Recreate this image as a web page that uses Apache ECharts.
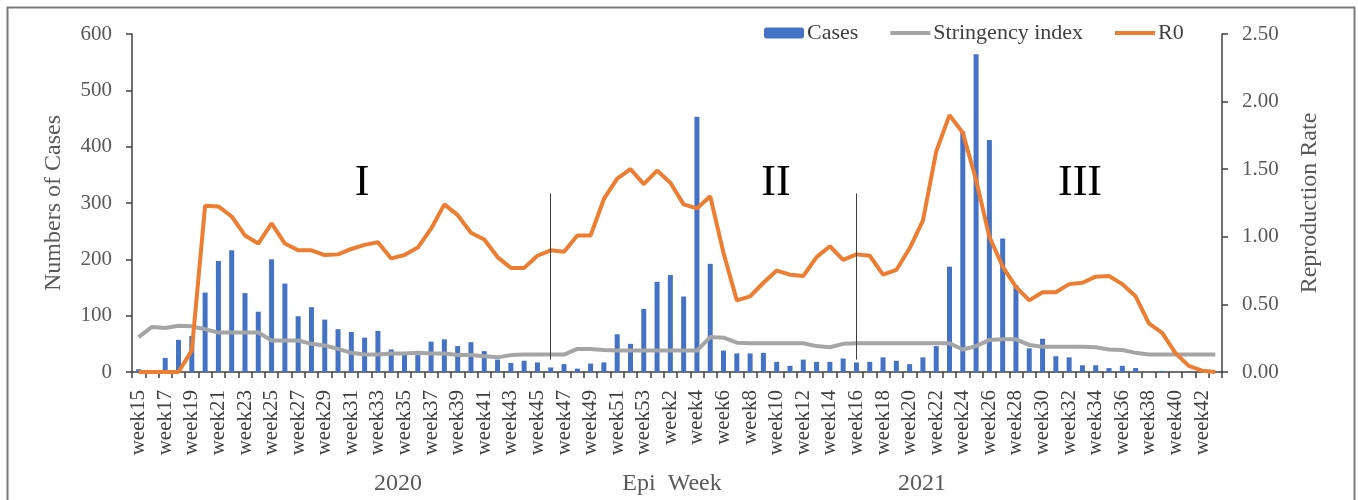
<!DOCTYPE html>
<html>
<head>
<meta charset="utf-8">
<script src="https://cdn.jsdelivr.net/npm/echarts@6/dist/echarts.min.js"></script>
<style>
  html, body { margin: 0; padding: 0; background: #fff; }
  #chart { width: 1358px; height: 500px; }
</style>
</head>
<body>
<div id="chart"></div>
<script>
// Epi weeks: 2020 week15..week53, then 2021 week1..week43
const weeks = [
  'week15','week16','week17','week18','week19','week20','week21','week22','week23','week24',
  'week25','week26','week27','week28','week29','week30','week31','week32','week33','week34',
  'week35','week36','week37','week38','week39','week40','week41','week42','week43','week44',
  'week45','week46','week47','week48','week49','week50','week51','week52','week53',
  'week1','week2','week3','week4','week5','week6','week7','week8','week9','week10',
  'week11','week12','week13','week14','week15','week16','week17','week18','week19','week20',
  'week21','week22','week23','week24','week25','week26','week27','week28','week29','week30',
  'week31','week32','week33','week34','week35','week36','week37','week38','week39','week40',
  'week41','week42','week43'
];

// Weekly case counts
const cases = [
  5, 0, 25, 57, 64, 141, 197, 216, 140, 107,
  200, 157, 99, 115, 93, 76, 71, 61, 73, 40,
  32, 30, 54, 58, 46, 53, 37, 22, 16, 20,
  17, 8, 14, 6, 15, 17, 67, 50, 112, 160,
  172, 134, 453, 192, 38, 33, 33, 34, 18, 11,
  22, 18, 18, 24, 17, 18, 26, 20, 14, 26,
  46, 187, 427, 564, 412, 237, 154, 42, 59, 28,
  26, 12, 12, 7, 11, 7, 0, 2, 0, 0,
  0, 0
];

// Government stringency index (plotted on the case axis)
const stringency = [
  62, 80, 78, 82, 81, 76, 70, 70, 70, 70,
  56, 56, 56, 50, 47, 41, 34, 31, 31, 33,
  33, 34, 33, 33, 30, 30, 28, 26, 30, 31,
  31, 31, 31, 41, 41, 39, 38, 38, 38, 38,
  38, 38, 38, 62, 61, 52, 51, 51, 51, 51,
  51, 46, 44, 50, 51, 51, 51, 51, 51, 51,
  51, 51, 40, 46, 57, 58, 58, 48, 45, 45,
  45, 45, 44, 40, 39, 34, 31, 31, 31, 31,
  31, 31
];

// Effective reproduction number
const r0 = [
  0, 0, 0, 0, 0.16, 1.23, 1.225, 1.15, 1.01, 0.95,
  1.10, 0.95, 0.90, 0.90, 0.865, 0.87, 0.91, 0.94, 0.96, 0.84,
  0.865, 0.92, 1.06, 1.24, 1.16, 1.03, 0.98, 0.85, 0.77, 0.77,
  0.86, 0.90, 0.89, 1.01, 1.01, 1.28, 1.43, 1.50, 1.39, 1.49,
  1.40, 1.24, 1.21, 1.30, 0.88, 0.53, 0.56, 0.66, 0.75, 0.72,
  0.71, 0.85, 0.93, 0.83, 0.87, 0.86, 0.72, 0.755, 0.915, 1.12,
  1.63, 1.90, 1.77, 1.42, 1.00, 0.78, 0.63, 0.53, 0.59, 0.59,
  0.65, 0.66, 0.705, 0.71, 0.65, 0.56, 0.36, 0.29, 0.14, 0.045,
  0.01, 0
];

// Wave boundaries (category index) and wave labels
const waveBreaks = [31, 54];
const waveLabels = ['I', 'II', 'III'];
const yearLabels = ['2020', 'Epi  Week', '2021'];

const FONT = '"Liberation Serif", "Times New Roman", serif';
const AXIS_DARK = '#404040';
const TEXT_GREY = '#595959';
const C_BAR = '#4472C4';
const C_GREY = '#A5A5A5';
const C_ORANGE = '#ED7D31';

const chart = echarts.init(document.getElementById('chart'), null, { renderer: 'canvas' });

// Line-series legend entries: plain thick stroke, no marker
const lineLegend = (name, color) => ({
  name,
  itemStyle: { opacity: 0 },
  lineStyle: { color, width: 4, opacity: 1 }
});

chart.setOption({
  animation: false,
  backgroundColor: '#fff',
  textStyle: { fontFamily: FONT },
  grid: { left: 132, right: 136, top: 34, bottom: 128, containLabel: false },
  legend: {
    data: [
      { name: 'Cases' },
      lineLegend('Stringency index', C_GREY),
      lineLegend('R0', C_ORANGE)
    ],
    left: 764,
    top: 22,
    padding: 0,
    itemWidth: 40,
    itemHeight: 11,
    itemGap: 30,
    textStyle: { fontFamily: FONT, fontSize: 22, color: AXIS_DARK, padding: [0, 0, 0, -2] }
  },
  xAxis: {
    type: 'category',
    data: weeks,
    boundaryGap: true,
    axisLine: { lineStyle: { color: AXIS_DARK, width: 1.5 } },
    axisTick: { show: true, interval: 0, length: 6, lineStyle: { color: AXIS_DARK, width: 1.5 } },
    axisLabel: {
      interval: 1,
      rotate: 90,
      margin: 18,
      fontFamily: FONT,
      fontSize: 21,
      color: AXIS_DARK
    },
    splitLine: { show: false }
  },
  yAxis: [
    {
      type: 'value',
      min: 0, max: 600, interval: 100,
      name: 'Numbers of Cases',
      nameLocation: 'middle',
      nameGap: 66,
      nameTextStyle: { fontFamily: FONT, fontSize: 24, color: TEXT_GREY },
      axisLine: { show: true, lineStyle: { color: AXIS_DARK, width: 1.5 } },
      axisTick: { show: true, length: 6, lineStyle: { color: AXIS_DARK, width: 1.5 } },
      axisLabel: { margin: 20, fontFamily: FONT, fontSize: 21, color: TEXT_GREY },
      splitLine: { show: false }
    },
    {
      type: 'value',
      min: 0, max: 2.5, interval: 0.5,
      position: 'right',
      name: 'Reproduction Rate',
      nameLocation: 'middle',
      nameGap: 76,
      nameRotate: 90,
      nameTextStyle: { fontFamily: FONT, fontSize: 24, color: TEXT_GREY },
      axisLine: { show: true, lineStyle: { color: AXIS_DARK, width: 1.5 } },
      axisTick: { show: true, length: 6, lineStyle: { color: AXIS_DARK, width: 1.5 } },
      axisLabel: {
        margin: 20, fontFamily: FONT, fontSize: 21, color: TEXT_GREY,
        formatter: v => v.toFixed(2)
      },
      splitLine: { show: false }
    }
  ],
  series: [
    {
      name: 'Cases',
      type: 'bar',
      data: cases,
      barWidth: 5,
      itemStyle: { color: C_BAR },
      markLine: {
        silent: true,
        symbol: 'none',
        label: { show: false },
        lineStyle: { color: AXIS_DARK, width: 1, type: 'solid' },
        data: waveBreaks.map(i => [{ coord: [i, 317] }, { coord: [i, 22] }])
      },
      z: 2
    },
    {
      name: 'Stringency index',
      type: 'line',
      data: stringency,
      yAxisIndex: 0,
      symbol: 'none',
      lineStyle: { color: C_GREY, width: 4 },
      itemStyle: { color: C_GREY },
      z: 3
    },
    {
      name: 'R0',
      type: 'line',
      data: r0,
      yAxisIndex: 1,
      symbol: 'none',
      lineStyle: { color: C_ORANGE, width: 4 },
      itemStyle: { color: C_ORANGE },
      z: 4
    }
  ],
  graphic: [
    {
      type: 'rect',
      shape: { x: 7.5, y: 7.5, width: 1347, height: 520 },
      style: { fill: 'none', stroke: '#7a7a7a', lineWidth: 2 },
      silent: true
    },
    ...waveLabels.map((t, k) => ({
      type: 'text',
      x: [362, 776, 1080][k],
      y: 183,
      style: {
        text: t, fontFamily: FONT, fontSize: 44, fill: '#000',
        textAlign: 'center', textVerticalAlign: 'middle'
      },
      silent: true
    })),
    ...yearLabels.map((t, k) => ({
      type: 'text',
      x: [398, 672, 922][k],
      y: 484,
      style: {
        text: t, fontFamily: FONT, fontSize: 24, fill: TEXT_GREY,
        textAlign: 'center', textVerticalAlign: 'middle'
      },
      silent: true
    }))
  ]
});
</script>
</body>
</html>
